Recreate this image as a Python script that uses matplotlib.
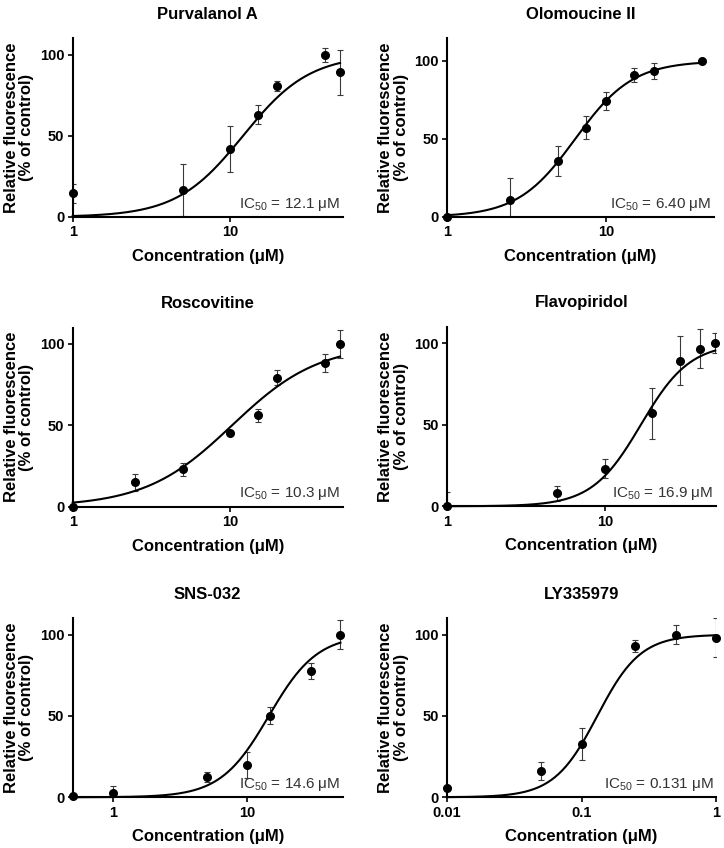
import numpy as np
import matplotlib
matplotlib.use("Agg")
import matplotlib.pyplot as plt

plt.rcParams['font.family'] = ['Liberation Sans', 'DejaVu Sans']
plt.rcParams['mathtext.fontset'] = 'custom'
plt.rcParams['mathtext.rm'] = 'Liberation Sans'
plt.rcParams['mathtext.it'] = 'Liberation Sans'

# drug names
names = ["Purvalanol A", "Olomoucine II", "Roscovitine",
         "Flavopiridol", "SNS-032", "LY335979"]

# concentrations (uM), means and SDs
purv_x = [1, 5, 10, 15, 20, 40, 50]
purv_y = [14.5, 16.4, 42, 63, 80.7, 100, 89]
purv_e = [6, 16, 14, 5.7, 3, 4.3, 14]

olom_x = [1, 2.5, 5, 7.5, 10, 15, 20, 40]
olom_y = [0, 10.9, 35.9, 57.3, 74.4, 91, 93.6, 100]
olom_e = [0, 14.3, 9.4, 7.2, 5.6, 4.7, 5.2, 0]

rosc_x = [1, 2.5, 5, 10, 15, 20, 40, 50]
rosc_y = [0, 14.9, 22.9, 45.3, 56.3, 79.2, 88.4, 100]
rosc_e = [0, 5, 3.8, 1, 4, 4.5, 5.7, 8.6]

flav_x = [1, 5, 10, 20, 30, 40, 50]
flav_y = [0, 8, 23.1, 57, 89, 96.5, 100]
flav_e = [9, 4.5, 5.7, 15.5, 15, 12, 6]

sns_x = [0.5, 1, 5, 10, 15, 30, 50]
sns_y = [0.6, 2.7, 12.6, 20, 50.2, 77.6, 100]
sns_e = [0, 4, 3, 8, 5, 5, 9]

ly_x = [0.01, 0.05, 0.1, 0.25, 0.5, 1]
ly_y = [5.5, 16.4, 32.5, 92.8, 100, 98.2]
ly_e = [0, 5.5, 9.8, 3.7, 5.7, 12]

# fitted IC50 (uM) and Hill slopes
ic50 = [12.1, 6.40, 10.3, 16.9, 14.6, 0.131]
ic50_text = ["12.1", "6.40", "10.3", "16.9", "14.6", "0.131"]
hill = [2.05, 2.4, 1.57, 2.8, 2.4, 2.7]

xlims = [(1, 52), (1, 48), (1, 52), (1, 50.5), (0.5, 52), (0.01, 1)]
ylims = [110, 114.5, 110, 110, 110, 110]
xticks = [[1, 10], [1, 10], [1, 10], [1, 10], [1, 10], [0.01, 0.1, 1]]
xticklabels = [["1", "10"], ["1", "10"], ["1", "10"], ["1", "10"],
               ["1", "10"], ["0.01", "0.1", "1"]]

data = [(purv_x, purv_y, purv_e), (olom_x, olom_y, olom_e),
        (rosc_x, rosc_y, rosc_e), (flav_x, flav_y, flav_e),
        (sns_x, sns_y, sns_e), (ly_x, ly_y, ly_e)]

W, H = 724, 848
fig = plt.figure(figsize=(W / 100, H / 100), dpi=100)

# axes boxes in pixels: left, right, bottom(y=0), top
boxes = [(72.7, 342.7, 217, 38.3), (447, 714.3, 217, 38.3),
         (72.7, 342.7, 506.7, 327.7), (447, 716, 506.3, 326.7),
         (72.7, 342.7, 797.3, 618.3), (447, 716, 797.3, 618.3)]

for i in range(6):
    l, r, b, t = boxes[i]
    ax = fig.add_axes([l / W, 1 - b / H, (r - l) / W, (b - t) / H])
    x, y, e = data[i]
    x = np.array(x, dtype=float)
    ax.errorbar(x, y, yerr=e, fmt='none', ecolor='#3a3a3a', elinewidth=0.8,
                capsize=2.2, capthick=0.8, zorder=2)
    # fitted sigmoid
    xf = np.logspace(np.log10(x.min()), np.log10(x.max()), 300)
    yf = 100.0 / (1 + (ic50[i] / xf) ** hill[i])
    ax.plot(xf, yf, color='black', lw=1.5, zorder=3, clip_on=False)
    ax.plot(x, y, 'o', color='black', ms=5.5, zorder=4, clip_on=False)
    ax.set_xscale('log')
    ax.set_xlim(xlims[i])
    ax.set_ylim(0, ylims[i])
    ax.set_xticks(xticks[i])
    ax.set_xticklabels(xticklabels[i])
    ax.xaxis.set_minor_locator(matplotlib.ticker.NullLocator())
    ax.set_yticks([0, 50, 100])
    for s in ['top', 'right']:
        ax.spines[s].set_visible(False)
    for s in ['left', 'bottom']:
        ax.spines[s].set_linewidth(1.5)
    ax.tick_params(direction='out', length=3.5, width=1.2, pad=2.5,
                   labelsize=10.5)
    for lab in ax.get_xticklabels() + ax.get_yticklabels():
        lab.set_fontweight('bold')
    ax.set_title(names[i], fontsize=12, fontweight='bold', pad=14)
    ax.set_xlabel("Concentration (μM)", fontsize=12, fontweight='bold',
                  labelpad=7)
    ax.set_ylabel("Relative fluorescence\n(% of control)", fontsize=12,
                  fontweight='bold', labelpad=4, linespacing=1.05)
    ax.text(0.99, 0.025, r'IC$_{50}$ = ' + ic50_text[i] + ' μM',
            transform=ax.transAxes, ha='right', va='bottom', fontsize=11,
            color='#333333')

fig.savefig("out.png", dpi=100)
